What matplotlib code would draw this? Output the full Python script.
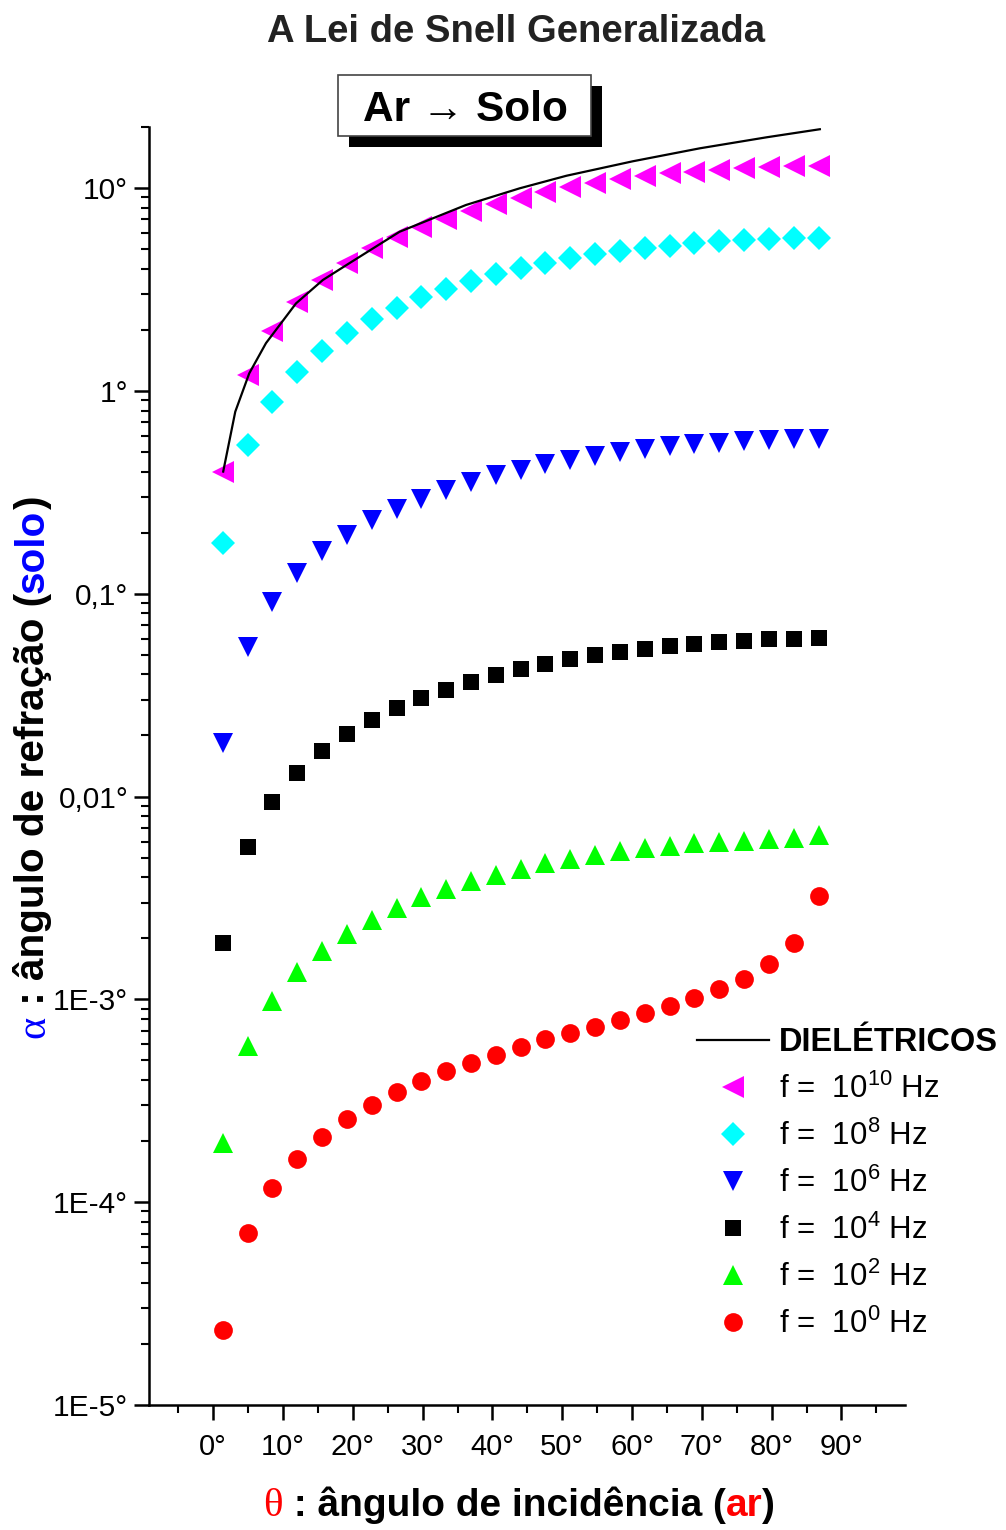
import matplotlib
matplotlib.use("Agg")
import matplotlib.pyplot as plt
from matplotlib.patches import Rectangle
from matplotlib.ticker import FixedLocator, FixedFormatter, LogLocator, NullFormatter

plt.rcParams['font.family'] = ['Liberation Sans', 'DejaVu Sans']
plt.rcParams['mathtext.fontset'] = 'custom'
plt.rcParams['mathtext.rm'] = 'Liberation Sans'
plt.rcParams['mathtext.it'] = 'Liberation Sans:italic'
plt.rcParams['mathtext.bf'] = 'Liberation Sans:bold'

# angulo de incidencia (graus)
theta = [1.36, 4.92, 8.47, 12.03, 15.59, 19.15, 22.70, 26.26, 29.82, 33.37,
         36.93, 40.49, 44.04, 47.60, 51.16, 54.72, 58.27, 61.83, 65.39, 68.94,
         72.50, 76.06, 79.61, 83.17, 86.73]

# angulo de refracao (graus) para cada frequencia
a_f10 = [0.400, 1.20, 1.98, 2.75, 3.52, 4.29, 5.05, 5.75, 6.43, 7.04,
         7.70, 8.30, 8.90, 9.59, 10.15, 10.62, 11.03, 11.46, 11.81, 12.03,
         12.27, 12.50, 12.74, 12.83, 12.88]
a_f8 = [0.178, 0.538, 0.886, 1.245, 1.58, 1.92, 2.26, 2.57, 2.90, 3.19,
        3.48, 3.76, 4.02, 4.26, 4.50, 4.71, 4.89, 5.05, 5.20, 5.34,
        5.48, 5.54, 5.61, 5.65, 5.69]
a_f6 = [0.0183, 0.0546, 0.0906, 0.1265, 0.1616, 0.1954, 0.2297, 0.2624, 0.2938, 0.325,
        0.355, 0.383, 0.408, 0.437, 0.457, 0.478, 0.497, 0.516, 0.532, 0.546,
        0.556, 0.567, 0.574, 0.576, 0.578]
a_f4 = [0.00189, 0.00566, 0.0094, 0.01313, 0.0168, 0.0204, 0.0239, 0.0273, 0.0306, 0.0337,
        0.0368, 0.0398, 0.0424, 0.0451, 0.0475, 0.0497, 0.0516, 0.0536, 0.0552, 0.0567,
        0.0578, 0.0587, 0.0596, 0.0600, 0.0603]
a_f2 = [1.96e-4, 5.87e-4, 9.77e-4, 1.36e-3, 1.74e-3, 2.11e-3, 2.47e-3, 2.82e-3, 3.18e-3, 3.50e-3,
        3.83e-3, 4.10e-3, 4.40e-3, 4.68e-3, 4.91e-3, 5.15e-3, 5.36e-3, 5.55e-3, 5.72e-3, 5.87e-3,
        6.00e-3, 6.07e-3, 6.16e-3, 6.23e-3, 6.43e-3]
a_f0 = [2.34e-5, 7.05e-5, 1.168e-4, 1.636e-4, 2.10e-4, 2.56e-4, 3.03e-4, 3.48e-4, 3.94e-4, 4.42e-4,
        4.86e-4, 5.33e-4, 5.82e-4, 6.35e-4, 6.86e-4, 7.34e-4, 7.94e-4, 8.57e-4, 9.27e-4, 1.01e-3,
        1.12e-3, 1.26e-3, 1.49e-3, 1.90e-3, 3.24e-3]

# curva dos dieletricos
diel_theta = [1.43, 3.16, 5.16, 7.56, 11.86, 15.7, 19.5, 26.7, 36.2, 43.9,
              50.6, 60.1, 69.7, 79.3, 86.9]
diel_alpha = [0.400, 0.79, 1.22, 1.72, 2.70, 3.52, 4.26, 6.09, 8.25, 9.97,
              11.5, 13.55, 15.7, 17.8, 19.5]

series = [
    (a_f10, '<', '#FF00FF', 15.5, r'f =  10$^{10}$ Hz'),
    (a_f8, 'D', '#00FFFF', 11.8, r'f =  10$^{8}$ Hz'),
    (a_f6, 'v', '#0000FF', 15.0, r'f =  10$^{6}$ Hz'),
    (a_f4, 's', '#000000', 12.0, r'f =  10$^{4}$ Hz'),
    (a_f2, '^', '#00FF00', 15.0, r'f =  10$^{2}$ Hz'),
    (a_f0, 'o', '#FF0000', 13.5, r'f =  10$^{0}$ Hz'),
]

ytick_vals = [1e-5, 1e-4, 1e-3, 1e-2, 1e-1, 1, 10]
ytick_labels = ['1E-5°', '1E-4°', '1E-3°', '0,01°', '0,1°', '1°', '10°']
xtick_vals = [0, 10, 20, 30, 40, 50, 60, 70, 80, 90]
xtick_labels = ['%d°' % v for v in xtick_vals]

W, H = 1006, 1530
fig = plt.figure(figsize=(W / 100, H / 100), dpi=100)
ax = fig.add_axes([149 / W, (H - 1405) / H, (905 - 149) / W, (1405 - 127) / H])

ax.plot(diel_theta, diel_alpha, color='black', lw=1.6, label='DIELÉTRICOS', zorder=3)
for vals, mk, col, ms, lab in series:
    ax.plot(theta, vals, ls='none', marker=mk, ms=ms, color=col, mew=0, label=lab)

ax.set_yscale('log')
ax.set_ylim(1e-5, 20)
ax.set_xlim(-9.2, 99.1)

for s in ['top', 'right']:
    ax.spines[s].set_visible(False)
for s in ['left', 'bottom']:
    ax.spines[s].set_linewidth(1.8)

ax.yaxis.set_major_locator(FixedLocator(ytick_vals))
ax.yaxis.set_major_formatter(FixedFormatter(ytick_labels))
ax.yaxis.set_minor_locator(LogLocator(base=10, subs=range(2, 10), numticks=20))
ax.yaxis.set_minor_formatter(NullFormatter())
ax.xaxis.set_major_locator(FixedLocator(xtick_vals))
ax.xaxis.set_major_formatter(FixedFormatter(xtick_labels))
ax.xaxis.set_minor_locator(FixedLocator(list(range(-5, 100, 10))))

ax.tick_params(which='major', direction='out', length=11, width=1.8)
ax.tick_params(which='minor', direction='out', length=6, width=1.5)
ax.tick_params(axis='x', which='major', labelsize=21, pad=9)
ax.tick_params(axis='y', which='major', labelsize=21.5, pad=4)

leg = ax.legend(frameon=False, loc='upper left', bbox_to_anchor=(697 / W, (H - 1027) / H),
                bbox_transform=fig.transFigure, fontsize=22.5, handlelength=2.3,
                handletextpad=0.32, labelspacing=0.50, borderpad=0, borderaxespad=0)
leg.get_texts()[0].set_fontweight('bold')
leg.get_texts()[0].set_fontsize(23.5)

# titulo
fig.text(516 / W, (H - 42) / H, 'A Lei de Snell Generalizada', ha='center', va='baseline',
         fontsize=27.5, fontweight='bold', color='#222222')

# caixa Ar -> Solo com sombra
fig.add_artist(Rectangle((349 / W, (H - 147) / H), 253 / W, 61 / H, transform=fig.transFigure,
                         facecolor='black', edgecolor='none', zorder=5))
fig.add_artist(Rectangle((338 / W, (H - 136) / H), 253 / W, 61 / H, transform=fig.transFigure,
                         facecolor='white', edgecolor='#444444', lw=1.2, zorder=6))
fig.text(465 / W, (H - 121) / H, 'Ar → Solo', ha='center', va='baseline', fontsize=30.5,
         fontweight='bold', zorder=7)

fig.canvas.draw()
rend = fig.canvas.get_renderer()


def pieces(parts, x, y, rotation=0):
    for txt, kw in parts:
        t = fig.text(x / W, y / H, txt, rotation=rotation, rotation_mode='anchor',
                     ha='left', va='baseline', **kw)
        bb = t.get_window_extent(rend)
        if rotation == 0:
            x += bb.width
        else:
            y += bb.height


greek_kw = dict(family=['Liberation Serif', 'DejaVu Serif'])

xl_kw = dict(fontsize=28, fontweight='bold', color='black')
pieces([('θ', dict(greek_kw, fontsize=29.5, color='red')),
        (' : ângulo de incidência (', xl_kw),
        ('ar', dict(xl_kw, color='red')),
        (')', xl_kw)], 263, H - 1516)

yl_kw = dict(fontsize=29.2, fontweight='bold', color='black')
pieces([('α', dict(greek_kw, fontsize=30.5, color='blue')),
        (' : ângulo de refração (', yl_kw),
        ('solo', dict(yl_kw, color='blue')),
        (')', yl_kw)], 44, H - 1038, rotation=90)

fig.savefig('out.png', dpi=100)
